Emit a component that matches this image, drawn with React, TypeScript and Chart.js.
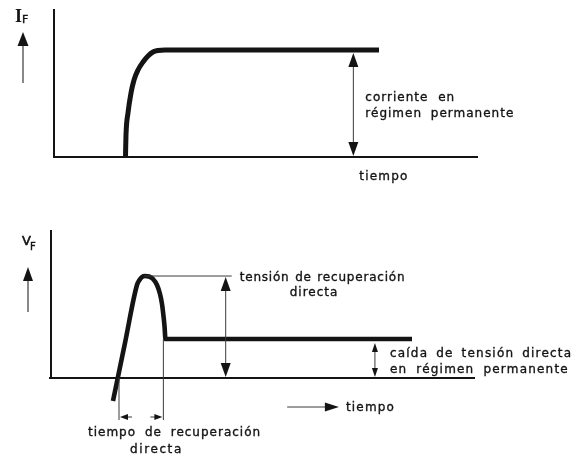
import React, { useEffect, useRef } from "react";
import { Chart, registerables } from "chart.js";

Chart.register(...registerables);

// ---------- Top panel: forward current I_F vs time ----------
const currentTime = [1.686, 1.698, 1.745, 1.816, 1.887, 1.981, 2.099, 2.217, 2.335, 2.453, 2.618, 7.665];
const currentValue = [0, 0.206, 0.411, 0.598, 0.72, 0.813, 0.888, 0.944, 0.981, 0.995, 1.0, 1.0];
const timeMin = 0;
const timeMax = 10;
const currentMax = 1.383;
const steadyCurrent = 1.0;
const currentArrowTime = 7.06;
const currentTimeLabelAt = 7.2;

// ---------- Bottom panel: forward voltage V_F vs time ----------
const voltageTime = [1.462, 1.745, 2.028, 2.087, 2.146, 2.217, 2.311, 2.406, 2.5, 2.571, 2.618, 2.653, 2.677, 2.7, 8.514];
const voltageValue = [-0.59, 0.897, 2.385, 2.513, 2.59, 2.615, 2.603, 2.538, 2.385, 2.154, 1.897, 1.59, 1.333, 1.0, 1.0];
const voltageMax = 3.795;
const peakVoltage = 2.615;
const steadyVoltage = 1.0;
const peakArrowTime = 4.12;
const dropArrowTime = 7.64;
const recoveryStart = 1.604;
const recoveryEnd = 2.65;
const timeArrowFrom = 5.57;
const timeArrowTo = 6.79;

// ---------- Texts ----------
const currentSymbol = "I";
const currentSub = "F";
const voltageSymbol = "V";
const voltageSub = "F";
const timeLabel = "tiempo";
const steadyCurrentLines = ["corriente en", "régimen permanente"];
const recoveryVoltageLines = ["tensión de recuperación", "directa"];
const steadyDropLines = ["caída de tensión directa", "en régimen permanente"];
const recoveryTimeLines = ["tiempo de recuperación", "directa"];

const INK = "#141414";
const THIN = "#3a3a3a";
const FONT = "'DejaVu Sans', sans-serif";

function seg(ctx: CanvasRenderingContext2D, x1: number, y1: number, x2: number, y2: number, w: number, color: string) {
  ctx.save();
  ctx.strokeStyle = color;
  ctx.lineWidth = w;
  ctx.lineCap = "butt";
  ctx.beginPath();
  ctx.moveTo(x1, y1);
  ctx.lineTo(x2, y2);
  ctx.stroke();
  ctx.restore();
}

function head(ctx: CanvasRenderingContext2D, tx: number, ty: number, dx: number, dy: number, len: number, half: number, color: string) {
  const bx = tx - dx * len;
  const by = ty - dy * len;
  ctx.save();
  ctx.fillStyle = color;
  ctx.beginPath();
  ctx.moveTo(tx, ty);
  ctx.lineTo(bx - dy * half, by + dx * half);
  ctx.lineTo(bx + dy * half, by - dx * half);
  ctx.closePath();
  ctx.fill();
  ctx.restore();
}

function txt(ctx: CanvasRenderingContext2D, s: string, x: number, y: number, font: string, spacing = "1px", align: CanvasTextAlign = "left", word = "2px", weight = 0.35) {
  ctx.save();
  ctx.fillStyle = INK;
  ctx.strokeStyle = INK;
  ctx.lineWidth = weight;
  ctx.font = font;
  ctx.textAlign = align;
  ctx.textBaseline = "alphabetic";
  (ctx as any).letterSpacing = spacing;
  (ctx as any).wordSpacing = word;
  ctx.fillText(s, x, y);
  if (weight > 0) ctx.strokeText(s, x, y);
  ctx.restore();
}

const topDecor = {
  id: "topDecor",
  beforeDatasetsDraw(chart: any) {
    const { ctx, chartArea } = chart;
    const { left, top, right, bottom } = chartArea;
    seg(ctx, left, top, left, bottom + 1, 2, INK);
    seg(ctx, left - 1, bottom, right, bottom, 2, INK);
  },
  afterDatasetsDraw(chart: any) {
    const { ctx, chartArea, scales } = chart;
    const { left, top, bottom } = chartArea;
    const xs = scales.x;
    const ys = scales.y;
    // double arrow for steady current
    const ax = xs.getPixelForValue(currentArrowTime);
    const yTop = ys.getPixelForValue(steadyCurrent) + 3;
    const yBot = ys.getPixelForValue(0) - 1;
    seg(ctx, ax, yTop + 10, ax, yBot - 10, 1, THIN);
    head(ctx, ax, yTop, 0, -1, 14, 5, INK);
    head(ctx, ax, yBot, 0, 1, 14, 5, INK);
    const mid = (yTop + yBot) / 2;
    txt(ctx, steadyCurrentLines[0], ax + 12, mid - 3, `12px ${FONT}`, "1px", "left", "5px");
    txt(ctx, steadyCurrentLines[1], ax + 12, mid + 13, `12px ${FONT}`, "1px", "left", "4px");
    // time label
    txt(ctx, timeLabel, xs.getPixelForValue(currentTimeLabelAt), bottom + 23, `12px ${FONT}`, "1.2px");
    // I_F label and up arrow
    txt(ctx, currentSymbol, left - 39, top + 13, `bold 18px 'Liberation Serif', serif`, "0px", "left", "0px", 0);
    txt(ctx, currentSub, left - 32, top + 14, `11px ${FONT}`, "0px");
    const upX = left - 31;
    seg(ctx, upX, top + 74, upX, top + 35, 1.2, THIN);
    head(ctx, upX, top + 23, 0, -1, 14, 5.5, INK);
  },
};

const bottomDecor = {
  id: "bottomDecor",
  beforeDatasetsDraw(chart: any) {
    const { ctx, chartArea } = chart;
    const { left, top, right, bottom } = chartArea;
    seg(ctx, left, top, left, bottom + 1, 2, INK);
    seg(ctx, left - 2, bottom, right, bottom, 2, INK);
  },
  afterDatasetsDraw(chart: any) {
    const { ctx, chartArea, scales } = chart;
    const { left, top, bottom } = chartArea;
    const xs = scales.x;
    const ys = scales.y;
    const yPeak = ys.getPixelForValue(peakVoltage);
    const yZero = ys.getPixelForValue(0);
    const ySteady = ys.getPixelForValue(steadyVoltage);
    // reference line from peak
    const ax = xs.getPixelForValue(peakArrowTime);
    seg(ctx, xs.getPixelForValue(2.2), yPeak, ax + 6, yPeak, 1, THIN);
    // big double arrow
    seg(ctx, ax, yPeak + 10, ax, yZero - 10, 1, THIN);
    head(ctx, ax, yPeak + 1, 0, -1, 14, 5, INK);
    head(ctx, ax, yZero - 1, 0, 1, 14, 5, INK);
    txt(ctx, recoveryVoltageLines[0], ax + 14, yPeak + 5, `12px ${FONT}`, "0.8px", "left", "1px");
    txt(ctx, recoveryVoltageLines[1], ax + 64, yPeak + 20, `12px ${FONT}`, "1px");
    // small double arrow for steady drop
    const dx = xs.getPixelForValue(dropArrowTime);
    seg(ctx, dx, ySteady + 8, dx, yZero - 8, 1, THIN);
    head(ctx, dx, ySteady + 4, 0, -1, 9, 3, INK);
    head(ctx, dx, yZero - 1, 0, 1, 9, 3, INK);
    txt(ctx, steadyDropLines[0], dx + 15, ySteady + 18, `12px ${FONT}`, "1.2px", "left", "3px");
    txt(ctx, steadyDropLines[1], dx + 15, ySteady + 34, `12px ${FONT}`, "1.2px", "left", "4px");
    // time arrow and label
    const ty = bottom + 29;
    const tx1 = xs.getPixelForValue(timeArrowFrom);
    const tx2 = xs.getPixelForValue(timeArrowTo);
    seg(ctx, tx1, ty, tx2 - 10, ty, 1.2, THIN);
    head(ctx, tx2, ty, 1, 0, 14, 4.5, INK);
    txt(ctx, timeLabel, tx2 + 7, bottom + 33, `12px ${FONT}`, "1.2px");
    // recovery time markers
    const rx1 = xs.getPixelForValue(recoveryStart);
    const rx2 = xs.getPixelForValue(recoveryEnd);
    seg(ctx, rx1, yZero, rx1, bottom + 42, 1, THIN);
    seg(ctx, rx2, ySteady, rx2, bottom + 42, 1, THIN);
    const my = bottom + 39;
    seg(ctx, rx1 + 13, my, rx1 + 6, my, 1, THIN);
    head(ctx, rx1 + 1, my, -1, 0, 8, 3, INK);
    seg(ctx, rx2 - 13, my, rx2 - 6, my, 1, THIN);
    head(ctx, rx2 - 1, my, 1, 0, 8, 3, INK);
    txt(ctx, recoveryTimeLines[0], rx1 - 31, bottom + 58, `12px ${FONT}`, "1px", "left", "4px");
    txt(ctx, recoveryTimeLines[1], rx1 + 11, bottom + 75, `12px ${FONT}`, "1.6px");
    // V_F label and up arrow
    txt(ctx, voltageSymbol, left - 29, top + 15, `13px ${FONT}`, "0px", "left", "0px", 0.6);
    txt(ctx, voltageSub, left - 21, top + 20, `10px ${FONT}`, "0px", "left", "0px", 0.4);
    const upX = left - 23;
    seg(ctx, upX, top + 82, upX, top + 48, 1.2, THIN);
    head(ctx, upX, top + 37, 0, -1, 14, 5, INK);
  },
};

function makeConfig(times: number[], values: number[], yMax: number, padding: any, width: number, plugin: any): any {
  return {
    type: "line",
    data: {
      datasets: [
        {
          data: times.map((t, i) => ({ x: t, y: values[i] })),
          borderColor: INK,
          borderWidth: width,
          pointRadius: 0,
          fill: false,
          clip: false,
          cubicInterpolationMode: "monotone",
          borderJoinStyle: "round",
          borderCapStyle: "butt",
        },
      ],
    },
    options: {
      responsive: false,
      animation: false,
      devicePixelRatio: 1,
      layout: { padding },
      plugins: { legend: { display: false }, tooltip: { enabled: false } },
      scales: {
        x: { type: "linear", min: timeMin, max: timeMax, display: false },
        y: { type: "linear", min: 0, max: yMax, display: false },
      },
    },
    plugins: [plugin],
  };
}

export default function App() {
  const topRef = useRef<HTMLCanvasElement>(null);
  const botRef = useRef<HTMLCanvasElement>(null);

  useEffect(() => {
    const c1 = new Chart(
      topRef.current as HTMLCanvasElement,
      makeConfig(currentTime, currentValue, currentMax, { left: 54, right: 100, top: 9, bottom: 58 }, 5, topDecor)
    );
    const c2 = new Chart(
      botRef.current as HTMLCanvasElement,
      makeConfig(voltageTime, voltageValue, voltageMax, { left: 51, right: 103, top: 15, bottom: 79 }, 4.6, bottomDecor)
    );
    return () => {
      c1.destroy();
      c2.destroy();
    };
  }, []);

  return (
    <div style={{ position: "absolute", left: 0, top: 0, width: 578, height: 457, background: "#fff" }}>
      <canvas ref={topRef} width={578} height={215} style={{ position: "absolute", left: 0, top: 0, width: 578, height: 215 }} />
      <canvas ref={botRef} width={578} height={242} style={{ position: "absolute", left: 0, top: 215, width: 578, height: 242 }} />
    </div>
  );
}
